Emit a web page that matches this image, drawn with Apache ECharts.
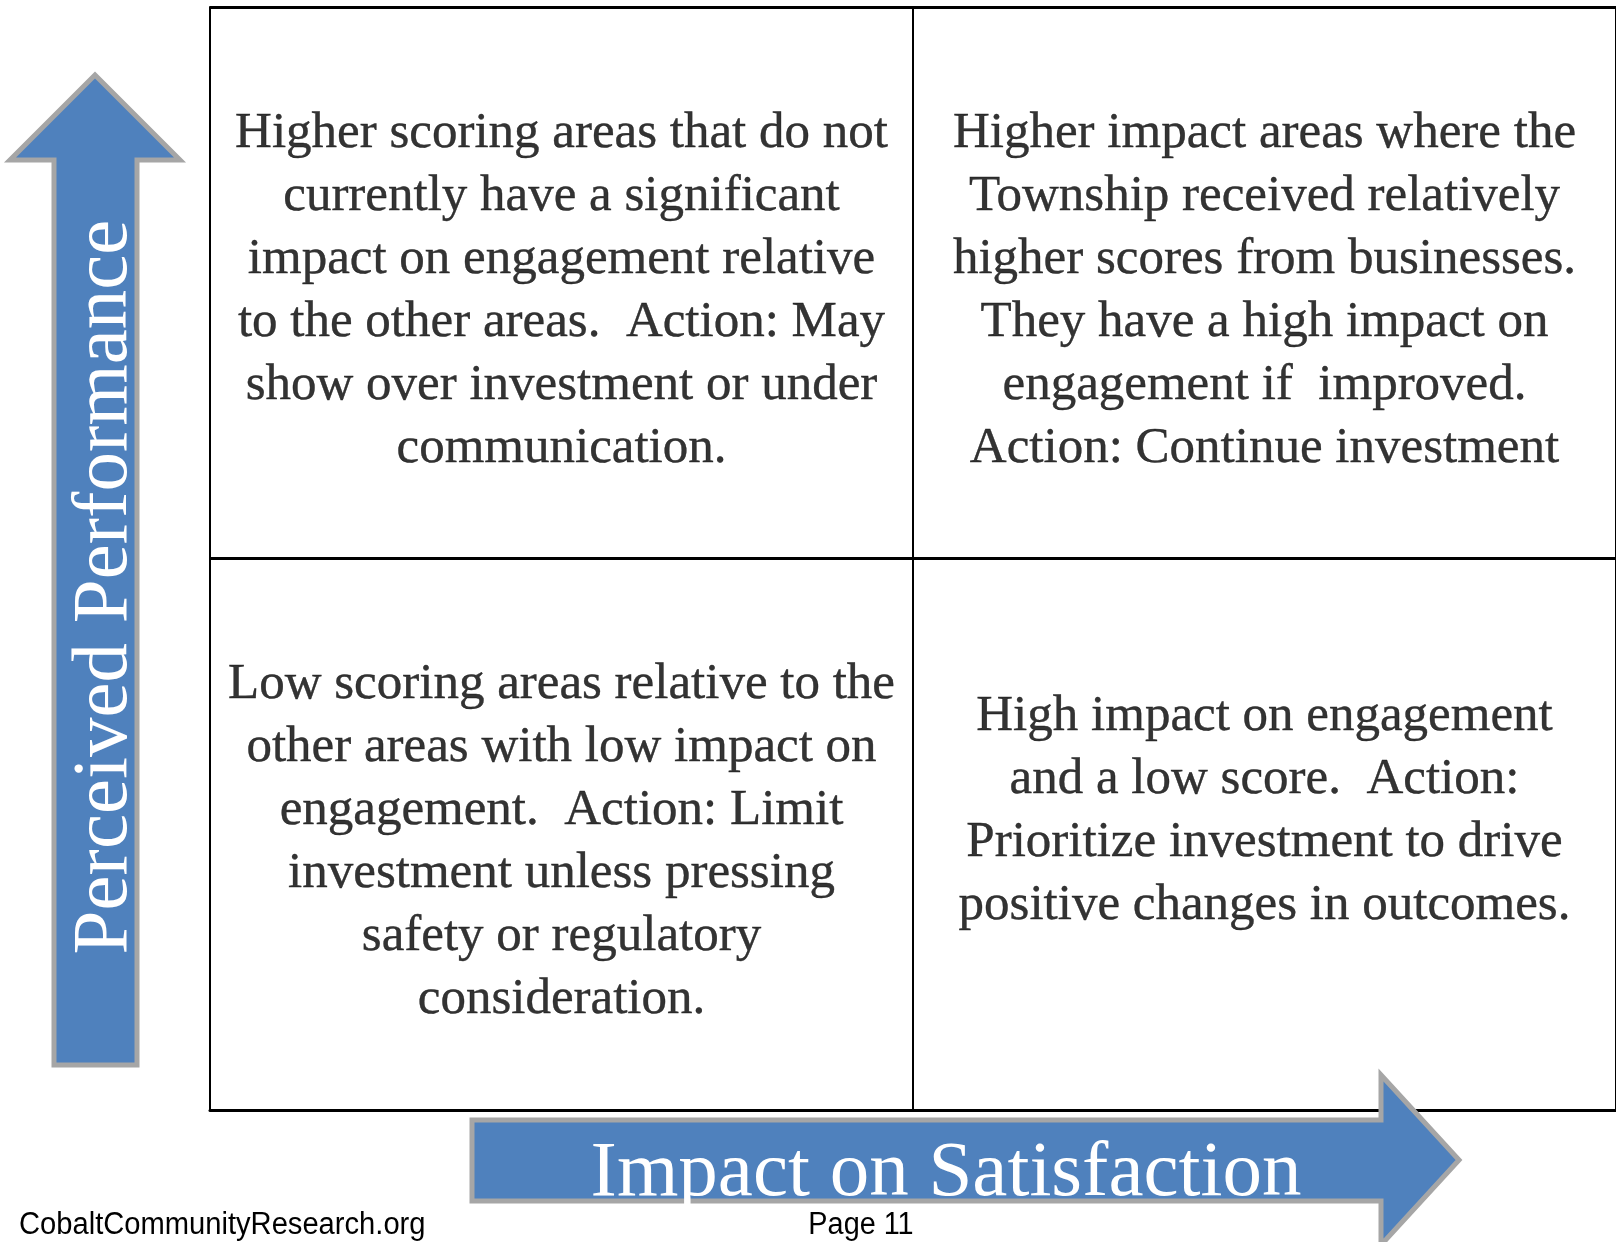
<!DOCTYPE html>
<html>
<head>
<meta charset="utf-8">
<script src="https://cdn.jsdelivr.net/npm/echarts@6/dist/echarts.min.js"></script>
<style>
  html, body { margin: 0; padding: 0; background: #fff; }
  #chart { width: 1616px; height: 1242px; }
</style>
</head>
<body>
<div id="chart"></div>
<script>
// quadrant texts, top-left, top-right, bottom-left, bottom-right
const quadrantText = [
  ['Higher scoring areas that do not', 'currently have a significant', 'impact on engagement relative', 'to the other areas.  Action: May', 'show over investment or under', 'communication.'],
  ['Higher impact areas where the', 'Township received relatively', 'higher scores from businesses.', 'They have a high impact on', 'engagement if  improved.', 'Action: Continue investment'],
  ['Low scoring areas relative to the', 'other areas with low impact on', 'engagement.  Action: Limit', 'investment unless pressing', 'safety or regulatory', 'consideration.'],
  ['High impact on engagement', 'and a low score.  Action:', 'Prioritize investment to drive', 'positive changes in outcomes.']
]
const quadrantX = [0.5, 1.5, 0.5, 1.5]
const quadrantY = [1.5, 1.5, 0.5, 0.5]

const yAxisTitle = 'Perceived Performance'
const xAxisTitle = 'Impact on Satisfaction'
const footerLeft = 'CobaltCommunityResearch.org'
const footerPage = 'Page 11'

// small vertical nudges for the text blocks (px)
const labelNudge = [8, 8, 8, -23]

const BLUE = '#4F81BD'
const GREY = '#A6A6A6'

const chart = echarts.init(document.getElementById('chart'))

const points = quadrantText.map((lines, i) => ({
  value: [quadrantX[i], quadrantY[i]],
  lines,
  label: { offset: [0, labelNudge[i]] },
}))

const option = {
  animation: false,
  backgroundColor: '#fff',
  grid: { left: 210, top: 7, right: -2, bottom: 132 },
  xAxis: {
    type: 'value',
    min: 0,
    max: 2,
    interval: 1,
    axisLabel: { show: false },
    axisTick: { show: false },
    axisLine: { show: true, lineStyle: { color: '#000', width: 3 } },
    splitLine: { show: true, lineStyle: { color: '#000', width: 2 } },
  },
  yAxis: {
    type: 'value',
    min: 0,
    max: 2,
    interval: 1,
    axisLabel: { show: false },
    axisTick: { show: false },
    axisLine: { show: true, lineStyle: { color: '#000', width: 2 } },
    splitLine: { show: true, lineStyle: { color: '#000', width: 3 } },
  },
  series: [
    {
      type: 'scatter',
      silent: true,
      symbolSize: 1,
      itemStyle: { color: 'rgba(0,0,0,0)' },
      data: points,
      label: {
        show: true,
        position: 'inside',
        formatter: (p) => p.data.lines.join('\n'),
        fontFamily: 'Liberation Serif',
        fontSize: 51,
        lineHeight: 63,
        color: '#000000',
        textBorderColor: '#000000',
        textBorderWidth: 0.4,
        align: 'center',
        verticalAlign: 'middle',
      },
    },
  ],
  graphic: [
    // vertical arrow
    {
      type: 'polygon',
      z: 10,
      shape: {
        points: [[95, 75], [180, 160], [137, 160], [137, 1065], [54, 1065], [54, 160], [10, 160]],
      },
      style: { fill: BLUE, stroke: GREY, lineWidth: 5 },
    },
    {
      type: 'text',
      z: 11,
      x: 105,
      y: 587,
      rotation: Math.PI / 2,
      style: {
        text: yAxisTitle,
        x: 0,
        y: 0,
        fill: '#fff',
        font: '79px "Liberation Serif"',
        align: 'center',
        verticalAlign: 'middle',
      },
    },
    // horizontal arrow
    {
      type: 'polygon',
      z: 10,
      shape: {
        points: [[472, 1120], [1381, 1120], [1381, 1075], [1459, 1160], [1381, 1245], [1381, 1201], [472, 1201]],
      },
      style: { fill: BLUE, stroke: GREY, lineWidth: 5 },
    },
    {
      type: 'text',
      z: 11,
      x: 946,
      y: 1174,
      style: {
        text: xAxisTitle,
        x: 0,
        y: 0,
        fill: '#fff',
        font: '79px "Liberation Serif"',
        align: 'center',
        verticalAlign: 'middle',
      },
    },
    // footer
    {
      type: 'text',
      z: 12,
      x: 19,
      y: 1225,
      scaleX: 0.94,
      style: {
        text: footerLeft,
        x: 0,
        y: 0,
        fill: '#000',
        font: '31px "Liberation Sans"',
        align: 'left',
        verticalAlign: 'middle',
      },
    },
    {
      type: 'text',
      z: 12,
      x: 861,
      y: 1225,
      scaleX: 0.93,
      style: {
        text: footerPage,
        x: 0,
        y: 0,
        fill: '#000',
        font: '31px "Liberation Sans"',
        align: 'center',
        verticalAlign: 'middle',
      },
    },
  ],
}

chart.setOption(option)
window.addEventListener('resize', () => chart.resize())
</script>
</body>
</html>
